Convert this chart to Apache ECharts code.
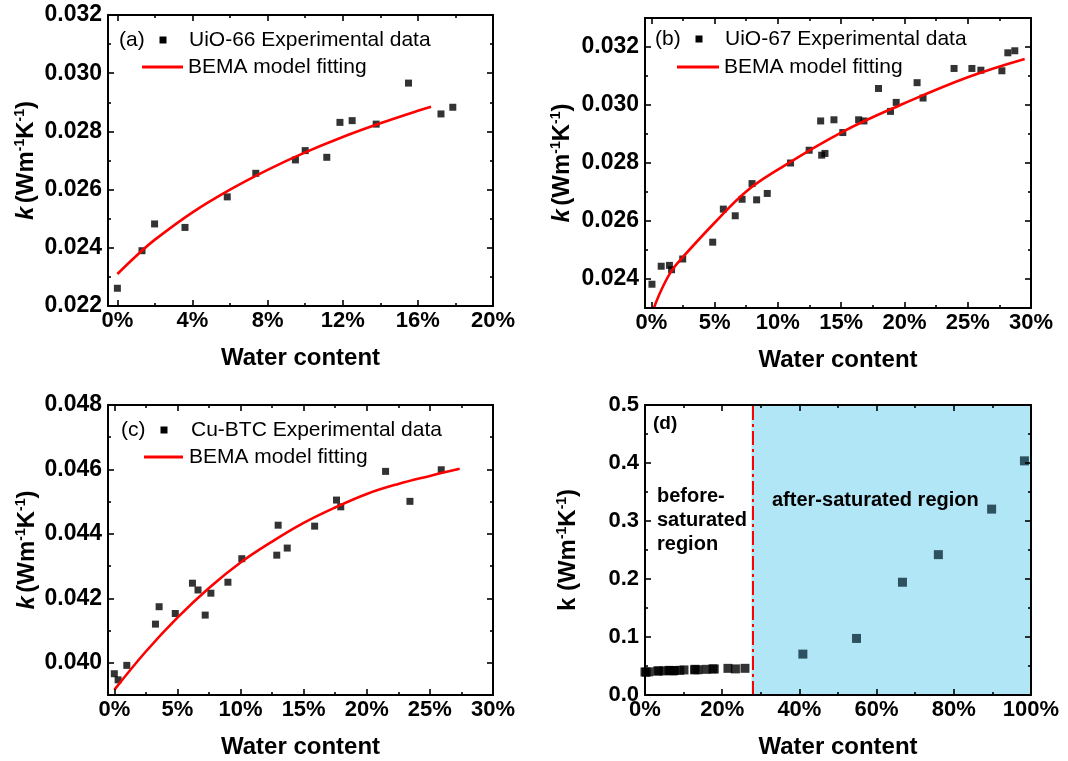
<!DOCTYPE html>
<html><head><meta charset="utf-8">
<script src="https://cdn.jsdelivr.net/npm/echarts@6/dist/echarts.min.js"></script>
<style>html,body{margin:0;padding:0;background:#fff}#c{width:1068px;height:761px}</style>
</head><body><div id="c"></div>
<script>
// ---------- data ----------
// (a) UiO-66
const aX = [0.000, 0.0131, 0.0198, 0.036, 0.0585, 0.0737, 0.0948, 0.100, 0.1115, 0.1185, 0.125, 0.1378, 0.155, 0.1723, 0.1786];
const aY = [0.02261, 0.0239, 0.02482, 0.0247, 0.02575, 0.02656, 0.02702, 0.02734, 0.02711, 0.02831, 0.02837, 0.02825, 0.02966, 0.0286, 0.02883];
const aFitX = [0, 0.01, 0.02, 0.04, 0.06, 0.08, 0.10, 0.12, 0.14, 0.16, 0.167];
const aFitY = [0.0231, 0.02372, 0.02428, 0.02522, 0.02600, 0.02668, 0.02728, 0.02781, 0.02828, 0.02871, 0.02885];
// (b) UiO-67
const bX = [0.0005, 0.0078, 0.0143, 0.016, 0.0248, 0.0485, 0.0569, 0.0663, 0.0717, 0.0796, 0.0832, 0.0916, 0.110, 0.1247, 0.1338, 0.1346, 0.1372, 0.1443, 0.1513, 0.1638, 0.168, 0.1795, 0.189, 0.1935, 0.210, 0.2147, 0.2392, 0.2533, 0.2604, 0.277, 0.2817, 0.2872];
const bY = [0.02382, 0.02444, 0.02447, 0.02432, 0.02469, 0.02527, 0.02641, 0.02618, 0.02675, 0.02729, 0.02673, 0.02695, 0.0280, 0.02844, 0.02945, 0.02827, 0.02833, 0.02949, 0.02905, 0.02949, 0.02945, 0.03057, 0.02978, 0.03009, 0.03077, 0.03024, 0.03126, 0.03126, 0.0312, 0.03118, 0.0318, 0.03187];
const bFitX = [0.002, 0.008, 0.016, 0.025, 0.05, 0.075, 0.10, 0.15, 0.20, 0.25, 0.295];
const bFitY = [0.0230, 0.02363, 0.02428, 0.02476, 0.02594, 0.02702, 0.02777, 0.02905, 0.03006, 0.03096, 0.03159];
// (c) Cu-BTC
const cX = [0.0, 0.003, 0.0099, 0.0326, 0.0355, 0.0483, 0.0619, 0.0663, 0.072, 0.0765, 0.090, 0.101, 0.1287, 0.1298, 0.137, 0.1587, 0.176, 0.1794, 0.2149, 0.2342, 0.259];
const cY = [0.03966, 0.03947, 0.03992, 0.0412, 0.04174, 0.04153, 0.04247, 0.04226, 0.04148, 0.04216, 0.0425, 0.04323, 0.04334, 0.04427, 0.04356, 0.04424, 0.04505, 0.04484, 0.04594, 0.04501, 0.04599];
const cFitX = [0, 0.025, 0.05, 0.075, 0.10, 0.125, 0.15, 0.175, 0.20, 0.225, 0.25, 0.2736];
const cFitY = [0.03916, 0.04035, 0.04140, 0.04232, 0.04311, 0.04376, 0.04434, 0.04482, 0.04524, 0.04555, 0.04580, 0.04602];
// (d) whole range
const dBeforeX = cX;
const dBeforeY = cY;
const dAfterX = [0.409, 0.548, 0.667, 0.760, 0.898, 0.983];
const dAfterY = [0.0705, 0.0975, 0.1944, 0.242, 0.3205, 0.4037];
const dSaturation = [0.276];
// ticks
const ticksA_x = [0, 0.04, 0.08, 0.12, 0.16, 0.20];
const minorA_x = [0.02, 0.06, 0.10, 0.14, 0.18];
const ticksA_y = [0.022, 0.024, 0.026, 0.028, 0.030, 0.032];
const minorA_y = [0.023, 0.025, 0.027, 0.029, 0.031];
const ticks30_x = [0, 0.05, 0.10, 0.15, 0.20, 0.25, 0.30];
const minor30_x = [0.025, 0.075, 0.125, 0.175, 0.225, 0.275];
const ticksB_y = [0.024, 0.026, 0.028, 0.030, 0.032];
const minorB_y = [0.023, 0.025, 0.027, 0.029, 0.031, 0.033];
const ticksC_y = [0.040, 0.042, 0.044, 0.046, 0.048];
const minorC_y = [0.039, 0.041, 0.043, 0.045, 0.047];
const ticksD_x = [0, 0.2, 0.4, 0.6, 0.8, 1.0];
const minorD_x = [0.1, 0.3, 0.5, 0.7, 0.9];
const ticksD_y = [0, 0.1, 0.2, 0.3, 0.4, 0.5];
const minorD_y = [0.05, 0.15, 0.25, 0.35, 0.45];

const zip = (xs, ys) => xs.map((x, i) => [x, ys[i]]);
const FONT = "'Liberation Sans', Arial, Helvetica, sans-serif";

const grids = [
  {left: 108, top: 15, width: 385, height: 291},
  {left: 645, top: 18, width: 386, height: 290},
  {left: 108, top: 405, width: 385, height: 290},
  {left: 645, top: 405, width: 386, height: 290}
];

const pctFmt = v => Math.round(v * 100) + '%';
const f3 = v => v.toFixed(3);
const f1 = v => v.toFixed(1);

const yNameItalic = '{ki|k} {b|(Wm}{sup|-1}{b|K}{sup|-1}{b|)}';
const yNamePlain = '{b|k (Wm}{sup|-1}{b|K}{sup|-1}{b|)}';
const nameRich = {
  ki: {fontFamily: FONT, fontSize: 24, fontWeight: 'bold', fontStyle: 'italic', color: '#000', lineHeight: 26},
  b: {fontFamily: FONT, fontSize: 24, fontWeight: 'bold', color: '#000', lineHeight: 26},
  sup: {fontFamily: FONT, fontSize: 14, fontWeight: 'bold', color: '#000', verticalAlign: 'top', lineHeight: 14}
};

function makeAxes(dim, gi, min, max, major, minor, fmt, labelSize, name, nameGap) {
  const base = {type: 'value', gridIndex: gi, min: min, max: max, splitLine: {show: false}, z: 10};
  const pA = dim === 'x' ? 'bottom' : 'left';
  const pB = dim === 'x' ? 'top' : 'right';
  const line = {show: true, onZero: false, lineStyle: {color: '#000', width: 2}};
  const noLine = {show: false, onZero: false};
  const majT = {show: true, inside: true, length: 6, customValues: major, lineStyle: {color: '#000', width: 1.6}};
  const minT = {show: true, inside: true, length: 3, customValues: minor, lineStyle: {color: '#000', width: 1.6}};
  const main = Object.assign({}, base, {
    position: pA, axisLine: line, axisTick: majT,
    axisLabel: {show: true, customValues: major, formatter: fmt, fontFamily: FONT, fontWeight: 'bold',
      fontSize: labelSize, color: '#000', margin: dim === 'x' ? 4 : 6},
    name: name, nameLocation: 'middle', nameGap: nameGap
  });
  if (dim === 'x') {
    main.nameTextStyle = {fontFamily: FONT, fontSize: 24, fontWeight: 'bold', color: '#000'};
  } else {
    main.nameTextStyle = {rich: nameRich};
  }
  return [
    main,
    Object.assign({}, base, {position: pA, axisLine: noLine, axisTick: minT, axisLabel: {show: false}}),
    Object.assign({}, base, {position: pB, axisLine: line, axisTick: majT, axisLabel: {show: false}}),
    Object.assign({}, base, {position: pB, axisLine: noLine, axisTick: minT, axisLabel: {show: false}})
  ];
}

const xAxis = [].concat(
  makeAxes('x', 0, -0.005, 0.2, ticksA_x, minorA_x, pctFmt, 22, 'Water content', 40),
  makeAxes('x', 1, -0.005, 0.3, ticks30_x, minor30_x, pctFmt, 22, 'Water content', 40),
  makeAxes('x', 2, -0.005, 0.3, ticks30_x, minor30_x, pctFmt, 22, 'Water content', 40),
  makeAxes('x', 3, 0, 1.0, ticksD_x, minorD_x, pctFmt, 22, 'Water content', 40)
);
const yAxis = [].concat(
  makeAxes('y', 0, 0.022, 0.032, ticksA_y, minorA_y, f3, 23, yNameItalic, 69),
  makeAxes('y', 1, 0.023, 0.033, ticksB_y, minorB_y, f3, 23, yNameItalic, 70),
  makeAxes('y', 2, 0.039, 0.048, ticksC_y, minorC_y, f3, 23, yNameItalic, 68),
  makeAxes('y', 3, 0, 0.5, ticksD_y, minorD_y, f1, 22, yNamePlain, 64)
);

function scatter(gi, xs, ys, size, color) {
  return {type: 'scatter', xAxisIndex: gi * 4, yAxisIndex: gi * 4, data: zip(xs, ys),
    symbol: 'rect', symbolSize: size, itemStyle: {color: color}, z: 3, silent: true};
}
function fit(gi, xs, ys) {
  return {type: 'line', xAxisIndex: gi * 4, yAxisIndex: gi * 4, data: zip(xs, ys), smooth: 0.4,
    showSymbol: false, symbol: 'none', lineStyle: {color: '#ff0000', width: 2.6}, z: 4, silent: true, clip: true};
}

const series = [
  scatter(0, aX, aY, 7, '#000'), fit(0, aFitX, aFitY),
  scatter(1, bX, bY, 7, '#000'), fit(1, bFitX, bFitY),
  scatter(2, cX, cY, 7, '#000'), fit(2, cFitX, cFitY),
  {type: 'scatter', xAxisIndex: 12, yAxisIndex: 12, data: [], z: 1, silent: true,
    markArea: {silent: true, itemStyle: {color: '#b0e6f6'}, data: [[{xAxis: dSaturation[0]}, {xAxis: 1.0}]]},
    markLine: {silent: true, symbol: 'none', label: {show: false},
      lineStyle: {color: '#ff0000', width: 2, type: [14, 4, 3, 4]}, data: [{xAxis: dSaturation[0]}]}},
  scatter(3, dBeforeX, dBeforeY, 9, '#000'),
  scatter(3, dAfterX, dAfterY, 9, '#0e2c3a')
];

function txt(x, y, s, size, bold) {
  return {type: 'text', x: x, y: y, z: 20, style: {text: s, fill: '#000',
    font: (bold ? 'bold ' : '') + size + 'px ' + FONT,
    align: 'left', verticalAlign: 'middle', textAlign: 'left', textVerticalAlign: 'middle'}};
}
function sq(cx, cy, s) {
  return {type: 'rect', z: 20, shape: {x: cx - s / 2, y: cy - s / 2, width: s, height: s}, style: {fill: '#000'}};
}
function seg(x1, x2, y) {
  return {type: 'line', z: 20, shape: {x1: x1, y1: y, x2: x2, y2: y}, style: {stroke: '#ff0000', lineWidth: 3}};
}

const graphic = [
  txt(119, 40, '(a)', 21, false), sq(163, 40, 7), txt(189, 40, 'UiO-66 Experimental data', 21, false),
  seg(142, 183, 67), txt(188, 67, 'BEMA model fitting', 21, false),
  txt(655, 39, '(b)', 21, false), sq(699, 39, 7), txt(725, 39, 'UiO-67 Experimental data', 21, false),
  seg(677, 719, 67), txt(724, 67, 'BEMA model fitting', 21, false),
  txt(121, 430, '(c)', 21, false), sq(164, 430, 7), txt(191, 430, 'Cu-BTC Experimental data', 21, false),
  seg(144, 183, 457), txt(189, 457, 'BEMA model fitting', 21, false),
  txt(653, 424, '(d)', 19, true),
  txt(657, 496, 'before-', 20, true), txt(657, 520, 'saturated', 20, true), txt(657, 544, 'region', 20, true),
  txt(772, 500, 'after-saturated region', 20, true)
];

const chart = echarts.init(document.getElementById('c'), null, {renderer: 'canvas'});
chart.setOption({
  animation: false,
  backgroundColor: '#fff',
  grid: grids,
  xAxis: xAxis,
  yAxis: yAxis,
  series: series,
  graphic: graphic
});
</script>
</body></html>
